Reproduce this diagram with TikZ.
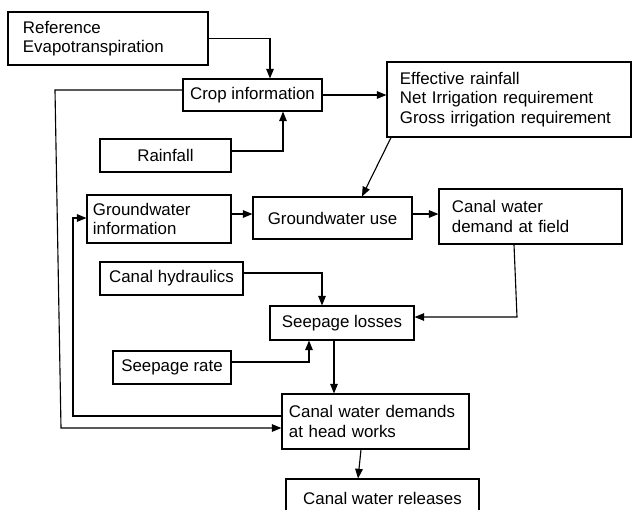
\documentclass[tikz,border=0pt]{standalone}
\usepackage{fontspec}
\setmainfont{Liberation Sans}
\usetikzlibrary{arrows.meta}
\begin{document}
\begin{tikzpicture}[x=0.025cm,y=-0.025cm,
  box/.style={draw,line width=0.8pt,font=\fontsize{12}{13.7}\selectfont,inner sep=0pt},
  lbox/.style={box,align=left},
  arr/.style={line width=0.8pt,-{Triangle[length=2.4mm,width=1.9mm]}}]
\useasboundingbox (0,0) rectangle (632,509);
% input boxes
\node[lbox,text width=4.25cm,inner xsep=0.375cm,minimum height=1.325cm] (refet) at (108,38.5) {Reference\\Evapotranspiration};
\node[box,minimum width=3.475cm,minimum height=0.8cm] (crop) at (252.5,95) {Crop information};
\node[box,minimum width=3.275cm,minimum height=0.825cm] (rain) at (165.5,155.5) {Rainfall};
\node[lbox,text width=5.45cm,inner xsep=0.325cm,minimum height=1.875cm] (irr) at (509,99.5) {Effective rainfall\\Net Irrigation requirement\\Gross irrigation requirement};
\node[lbox,text width=3.3cm,inner xsep=0.15cm,minimum height=1.2cm] (gwinfo) at (159,219) {Groundwater\\information};
\node[box,minimum width=3.975cm,minimum height=1.05cm] (gwuse) at (332.5,218) {Groundwater use};
\node[lbox,text width=3.925cm,inner xsep=0.325cm,minimum height=1.375cm] (field) at (530.5,216.5) {Canal water\\demand at field};
\node[box,minimum width=3.575cm,minimum height=0.825cm] (hydr) at (171.5,278.5) {Canal hydraulics};
\node[box,minimum width=3.6cm,minimum height=0.85cm] (seep) at (342,323) {Seepage losses};
\node[box,minimum width=2.95cm,minimum height=0.825cm] (srate) at (172,367.5) {Seepage rate};
\node[lbox,text width=4.325cm,inner xsep=0.175cm,minimum height=1.375cm] (head) at (375.5,421.5) {Canal water demands\\at head works};
\node[box,minimum width=4.825cm,minimum height=0.95cm] (rel) at (382.5,498) {Canal water releases};
% connectors
\draw[arr] (refet.east) -| (270,0 |- crop.north);
\draw[arr] (rain.east |- 0,151) -| (283,0 |- crop.south);
\draw[arr] (crop.east) -- (crop.east -| irr.west);
\draw[arr] (391,0 |- irr.south) -- (362,0 |- gwuse.north);
\draw[arr] (gwinfo.east |- 0,214) -- (gwuse.west |- 0,214);
\draw[arr] (gwuse.east |- 0,214) -- (field.west |- 0,214);
\draw[arr] (514,0 |- field.south) -- (517,317) -- (seep.east |- 0,317);
\draw[arr] (hydr.east |- 0,273) -| (322,0 |- seep.north);
\draw[arr] (srate.east |- 0,362) -| (309,0 |- seep.south);
\draw[arr] (334,0 |- seep.south) -- (334,0 |- head.north);
\draw[arr] (361,0 |- head.south) -- (358,0 |- rel.north);
% feedback lines
\draw[arr] (crop.west |- 0,90) -- (55,90) -- (61,428) -- (head.west |- 0,428);
\draw[arr] (head.west |- 0,416) -- (73,416) -- (73,218) -- (gwinfo.west |- 0,218);
\end{tikzpicture}
\end{document}
